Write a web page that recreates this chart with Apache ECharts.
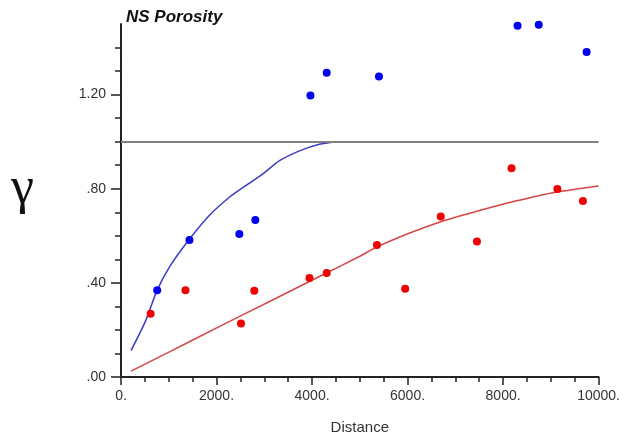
<!DOCTYPE html>
<html>
<head>
<meta charset="utf-8">
<script src="https://cdn.jsdelivr.net/npm/echarts@6/dist/echarts.min.js"></script>
<style>
html,body{margin:0;padding:0;background:#fff;}
#chart{width:623px;height:440px;}
</style>
</head>
<body>
<div id="chart"></div>
<script>
// ---- data ----
var titleText = 'NS Porosity';
var xName = 'Distance';
var yName = 'γ';

// blue experimental points [distance, gamma]
var blueDist  = [758, 1434, 2478, 2812, 3967, 4307, 5401, 8303, 8747, 9749];
var blueGamma = [0.369, 0.582, 0.608, 0.667, 1.196, 1.293, 1.277, 1.493, 1.497, 1.381];

// red experimental points
var redDist  = [620, 1350, 2512, 2791, 3946, 4307, 5359, 5950, 6695, 7453, 8177, 9137, 9672];
var redGamma = [0.269, 0.369, 0.227, 0.366, 0.421, 0.442, 0.561, 0.375, 0.682, 0.576, 0.887, 0.799, 0.748];

var blueCurveDist  = [209, 501, 758, 1023, 1420, 1858, 2276, 2624, 2971, 3319, 3737, 4154, 4500];
var blueCurveGamma = [0.112, 0.232, 0.369, 0.470, 0.582, 0.688, 0.765, 0.815, 0.863, 0.919, 0.961, 0.989, 1.0];

var redCurveDist  = [209, 1023, 2067, 3111, 4154, 4990, 5372, 6033, 6695, 7286, 7912, 8330, 9130, 10000];
var redCurveGamma = [0.025, 0.108, 0.215, 0.321, 0.427, 0.512, 0.554, 0.611, 0.660, 0.695, 0.730, 0.751, 0.786, 0.812];

// reference sill line
var sill = 1.0;

// axis ticks
var yMajorTicks = [0, 0.4, 0.8, 1.2];
var yMinorTicks = [0.1, 0.2, 0.3, 0.5, 0.6, 0.7, 0.9, 1.0, 1.1, 1.3, 1.4];
var xMin = 0, xMax = 10000, xStep = 2000;
var yMin = 0, yMax = 1.5;

function zip(a, b) { return a.map(function (v, i) { return [v, b[i]]; }); }

var FONT = '"Liberation Sans", Arial, Helvetica, sans-serif';
var chart = echarts.init(document.getElementById('chart'), null, {renderer: 'canvas'});

var option = {
  animation: false,
  backgroundColor: '#fff',
  title: {
    text: titleText,
    left: 121, top: 4,
    textStyle: {fontFamily: FONT, fontSize: 17, fontWeight: 'bold', fontStyle: 'italic', color: '#111'}
  },
  graphic: [{
    type: 'text',
    left: 11, top: 163,
    style: {text: yName, font: 'normal 52px "Liberation Serif", "DejaVu Serif", serif', fill: '#111'}
  }],
  grid: {left: 121, right: 23, top: 24, bottom: 60, containLabel: false},
  xAxis: {
    type: 'value', min: xMin, max: xMax, interval: xStep,
    name: xName, nameLocation: 'middle', nameGap: 43,
    nameTextStyle: {fontFamily: FONT, fontSize: 15, color: '#333'},
    axisLine: {show: true, onZero: false, lineStyle: {color: '#222', width: 2}},
    axisTick: {show: true, length: 8, lineStyle: {color: '#222', width: 1.5}},
    minorTick: {show: true, splitNumber: 4, length: 5, lineStyle: {color: '#222', width: 1.5}},
    axisLabel: {fontFamily: FONT, fontSize: 14, color: '#333', margin: 12,
      formatter: function (v) { return v + '.'; }},
    splitLine: {show: false}
  },
  yAxis: [{
    type: 'value', min: yMin, max: yMax, position: 'left',
    axisLine: {show: true, onZero: false, lineStyle: {color: '#222', width: 2}},
    axisTick: {show: true, customValues: yMinorTicks, length: 6, lineStyle: {color: '#222', width: 1.5}},
    axisLabel: {show: false},
    splitLine: {show: false}
  }, {
    type: 'value', min: yMin, max: yMax, position: 'left',
    axisLine: {show: false},
    axisTick: {show: true, customValues: yMajorTicks, length: 10, lineStyle: {color: '#222', width: 1.5}},
    axisLabel: {show: true, customValues: yMajorTicks, fontFamily: FONT, fontSize: 14, color: '#333', margin: 15,
      padding: [0, 0, 6, 0],
      formatter: function (v) { var s = v.toFixed(2); return s.charAt(0) === '0' ? s.slice(1) : s; }},
    splitLine: {show: false}
  }],
  series: [{
    type: 'line', name: 'sill', yAxisIndex: 0,
    data: [], symbol: 'none',
    markLine: {
      silent: true, symbol: 'none', label: {show: false},
      lineStyle: {color: '#808080', width: 2, type: 'solid'},
      data: [{yAxis: sill}]
    }
  }, {
    type: 'line', name: 'blueModel', yAxisIndex: 0,
    data: zip(blueCurveDist, blueCurveGamma),
    smooth: 0.25, symbol: 'none',
    lineStyle: {color: '#3b3bc4', width: 1.5}, z: 3
  }, {
    type: 'line', name: 'redModel', yAxisIndex: 0,
    data: zip(redCurveDist, redCurveGamma),
    smooth: 0.25, symbol: 'none',
    lineStyle: {color: '#d94545', width: 1.5}, z: 3
  }, {
    type: 'scatter', name: 'blue', yAxisIndex: 0, clip: false,
    data: zip(blueDist, blueGamma), symbolSize: 8,
    itemStyle: {color: '#0000f0', opacity: 1}, z: 4
  }, {
    type: 'scatter', name: 'red', yAxisIndex: 0, clip: false,
    data: zip(redDist, redGamma), symbolSize: 8,
    itemStyle: {color: '#f00000', opacity: 1}, z: 4
  }]
};
chart.setOption(option);
</script>
</body>
</html>
